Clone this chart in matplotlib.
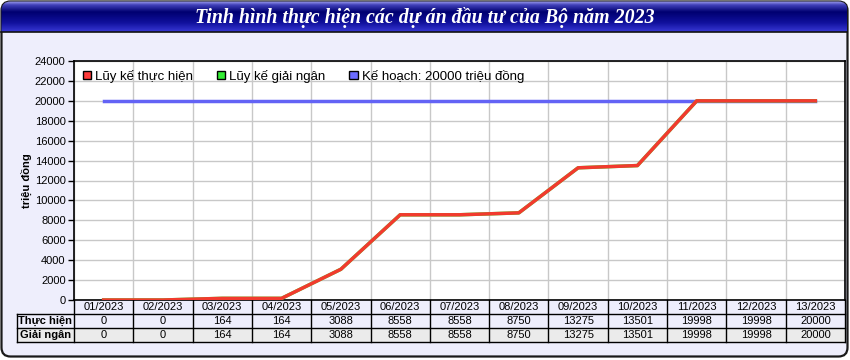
import numpy as np
import matplotlib.pyplot as plt
from matplotlib.patches import FancyBboxPatch, Patch, Rectangle
from matplotlib.colors import LinearSegmentedColormap
import matplotlib.transforms as mtransforms

plt.rcParams['font.family'] = ['Liberation Sans', 'DejaVu Sans']

# data
months = ['01/2023', '02/2023', '03/2023', '04/2023', '05/2023', '06/2023', '07/2023',
          '08/2023', '09/2023', '10/2023', '11/2023', '12/2023', '13/2023']
thuc_hien = [0, 0, 164, 164, 3088, 8558, 8558, 8750, 13275, 13501, 19998, 19998, 20000]
giai_ngan = [0, 0, 164, 164, 3088, 8558, 8558, 8750, 13275, 13501, 19998, 19998, 20000]
ke_hoach = 20000
title = 'Tinh hình thực hiện các dự án đầu tư của Bộ năm 2023'
row_labels = ['Thực hiện', 'Giải ngân']

W, H = 850, 360
fig = plt.figure(figsize=(W / 100, H / 100), dpi=100)
fig.patch.set_facecolor('white')

# background frame (pixel coords)
bg = fig.add_axes([0, 0, 1, 1])
bg.set_xlim(0, W); bg.set_ylim(H, 0); bg.axis('off')
frame = FancyBboxPatch((1.5, 1.5), 846, 355, boxstyle='round,pad=0,rounding_size=9',
                       fc='#EEEEFC', ec='#1a1a1a', lw=1.6, zorder=0)
bg.add_patch(frame)
# title bar gradient
cmap = LinearSegmentedColormap.from_list('tb', [(0, '#a0a0f0'), (0.12, '#4040b8'), (0.35, '#000070'),
                                                (0.7, '#10109c'), (1, '#3838d4')])
grad = np.linspace(0, 1, 64).reshape(-1, 1)
im = bg.imshow(grad, cmap=cmap, aspect='auto', extent=(1.5, 847.5, 32, 1.5), zorder=1)
im.set_clip_path(frame)
bg.plot([1.5, 847.5], [32, 32], color='#111111', lw=1.2, zorder=2)
bg.text(425, 17, title, color='white', fontsize=14.3, fontstyle='italic', fontweight='bold',
        family='Liberation Serif', ha='center', va='center', zorder=3)

# main axes
ax = fig.add_axes([74 / W, 60 / H, 771 / W, 239 / H])
ax.set_facecolor('white')
x = np.arange(len(months))
ax.plot(x, [ke_hoach] * len(x), color='#6363F5', lw=2.5, zorder=3)
ax.plot(x, giai_ngan, color='#33EE33', lw=2.5, zorder=3)
ax.plot(x, thuc_hien, color='#F23A2E', lw=2.5, zorder=4)
ax.set_xlim(-0.5, len(months) - 0.5)
ax.set_ylim(0, 24000)
ax.set_yticks(np.arange(0, 24001, 2000))
ax.set_xticks([])
ax.set_xticks(np.arange(-0.5, len(months)), minor=True)
ax.tick_params(axis='x', which='both', length=0, labelbottom=False)
ax.tick_params(axis='y', labelsize=8, length=4, width=1, pad=2)
ax.grid(True, which='major', axis='y', color='#C8C8C8', lw=1)
ax.grid(True, which='minor', axis='x', color='#C8C8C8', lw=1)
ax.set_axisbelow(True)
for s in ax.spines.values():
    s.set_color('black'); s.set_linewidth(1.2)
ax.set_ylabel('triệu đồng', fontsize=8, fontweight='bold', labelpad=2)

handles = [Patch(fc='#FF3B3B', ec='black', label='Lũy kế thực hiện'),
           Patch(fc='#33EE33', ec='black', label='Lũy kế giải ngân'),
           Patch(fc='#6B6BFF', ec='black', label='Kế hoạch: 20000 triệu đồng')]
ax.legend(handles=handles, ncol=3, loc='upper left', bbox_to_anchor=(0.0, 1.0), frameon=False,
          fontsize=9.5, handlelength=0.65, handleheight=0.65, handletextpad=0.3,
          columnspacing=1.8, borderaxespad=0.25)

# data table below the axes
trans = mtransforms.blended_transform_factory(ax.transData, ax.transAxes)
hpx = 239.0
rows_y = [0, -14 / hpx, -28 / hpx, -42 / hpx]
lab_left = -0.5 - 57 / (771 / len(months))
for i, m in enumerate(months):
    ax.text(i, (rows_y[0] + rows_y[1]) / 2, m, transform=trans, ha='center', va='center',
            fontsize=8, clip_on=False)
    for r, vals in enumerate([thuc_hien, giai_ngan]):
        ax.text(i, (rows_y[r + 1] + rows_y[r + 2]) / 2, str(vals[i]), transform=trans,
                ha='center', va='center', fontsize=8, clip_on=False)
ax.add_patch(Rectangle((lab_left, rows_y[3]), len(months) - 0.5 - lab_left, rows_y[2] - rows_y[3],
                       transform=trans, fc='#EBEBEB', ec='none', clip_on=False, zorder=0))
for r, lab in enumerate(row_labels):
    ax.text((lab_left - 0.5) / 2, (rows_y[r + 1] + rows_y[r + 2]) / 2, lab, transform=trans,
            ha='center', va='center', fontsize=8, fontweight='bold', clip_on=False)
# table lines
for yy in rows_y[1:]:
    ax.plot([lab_left, len(months) - 0.5], [yy, yy], transform=trans, color='black', lw=1, clip_on=False)
for k in range(len(months) + 1):
    ax.plot([k - 0.5, k - 0.5], [rows_y[0], rows_y[3]], transform=trans, color='black', lw=1, clip_on=False)
ax.plot([lab_left, lab_left], [rows_y[1], rows_y[3]], transform=trans, color='black', lw=1, clip_on=False)

fig.savefig('out.png', dpi=100, facecolor=fig.get_facecolor())
